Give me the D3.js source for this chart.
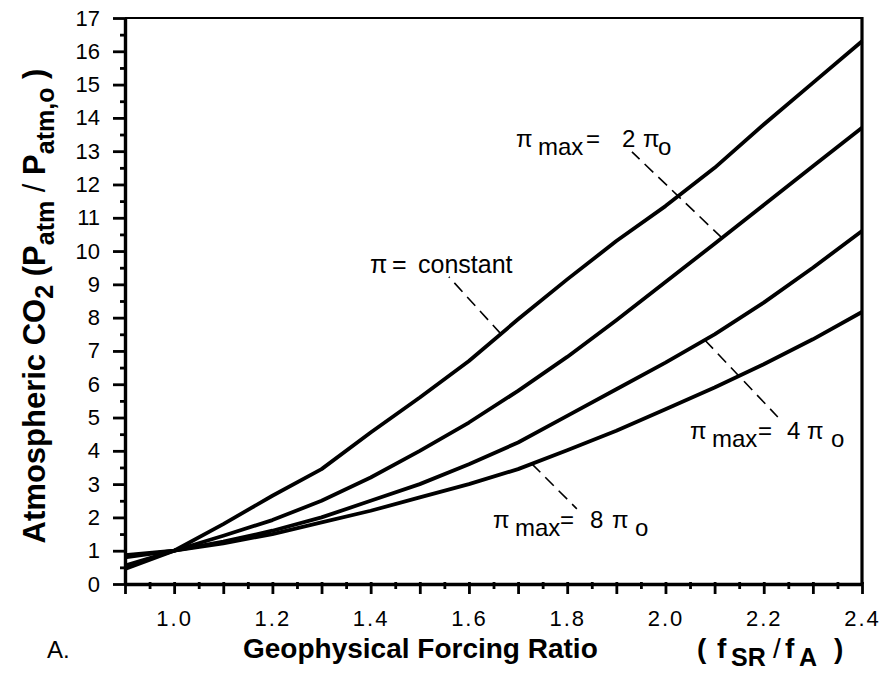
<!DOCTYPE html>
<html>
<head>
<meta charset="utf-8">
<script src="https://cdn.jsdelivr.net/npm/d3@7"></script>
<style>
  body { margin: 0; background: #fff; }
  svg { display: block; }
  text { font-family: "Liberation Sans", Arial, Helvetica, sans-serif; fill: #000; }
</style>
</head>
<body>
<div id="chart"></div>
<script>
// Geophysical forcing ratio vs atmospheric CO2

const forcing = [0.9, 1.0, 1.1, 1.2, 1.3, 1.4, 1.5, 1.6, 1.7, 1.8, 1.9, 2.0, 2.1, 2.2, 2.3, 2.4];
const piConstant = [0.45, 1.0, 1.8, 2.65, 3.45, 4.55, 5.6, 6.7, 7.95, 9.15, 10.3, 11.35, 12.5, 13.8, 15.05, 16.3];
const piMax2 = [0.55, 1.0, 1.45, 1.92, 2.5, 3.2, 4.0, 4.85, 5.8, 6.82, 7.92, 9.07, 10.22, 11.38, 12.55, 13.7];
const piMax4 = [0.8, 1.0, 1.27, 1.6, 2.0, 2.5, 3.0, 3.6, 4.25, 5.05, 5.85, 6.65, 7.5, 8.45, 9.5, 10.6];
const piMax8 = [0.87, 1.0, 1.22, 1.5, 1.85, 2.2, 2.6, 3.0, 3.45, 4.02, 4.6, 5.25, 5.9, 6.6, 7.35, 8.17];

const xTickLabels = [1.0, 1.2, 1.4, 1.6, 1.8, 2.0, 2.2, 2.4];
const yTickLabels = d3.range(0, 18);

const W = 881, H = 681;
const mLeft = 125, mRight = 862, mTop = 18, mBottom = 584;

const svg = d3.select("#chart").append("svg")
  .attr("width", W).attr("height", H);

const x = d3.scaleLinear().domain([0.9, 2.4]).range([mLeft, mRight]);
const y = d3.scaleLinear().domain([0, 17]).range([mBottom, mTop]);

function valueAt(series, xv) {
  let i = d3.bisectLeft(forcing, xv);
  if (i <= 0) return series[0];
  let t = (xv - forcing[i - 1]) / (forcing[i] - forcing[i - 1]);
  return series[i - 1] + t * (series[i] - series[i - 1]);
}

// frame (top + right)
svg.append("line").attr("x1", mLeft).attr("x2", mRight).attr("y1", mTop).attr("y2", mTop)
  .attr("stroke", "#000").attr("stroke-width", 2.2);
svg.append("line").attr("x1", mRight).attr("x2", mRight).attr("y1", mTop - 1).attr("y2", mBottom)
  .attr("stroke", "#000").attr("stroke-width", 3.2);

// x axis
const xTicks = d3.range(18, 49).map(i => i / 20);
const isXLabel = d => xTickLabels.some(v => Math.abs(v - d) < 1e-6);
const gx = svg.append("g").attr("transform", "translate(0," + mBottom + ")")
  .call(d3.axisBottom(x).tickValues(xTicks).tickSizeOuter(0)
    .tickFormat(d => isXLabel(d) ? d3.format(".1f")(d) : ""));
gx.select(".domain").attr("stroke-width", 3.4);
gx.selectAll(".tick line")
  .attr("y1", -2)
  .attr("y2", (d, i) => i % 2 == 0 ? 10 : 5)
  .attr("stroke-width", 2.8);
gx.selectAll(".tick text")
  .attr("y", 26).attr("dy", "0.71em")
  .style("font-size", "22px").style("letter-spacing", "2px");

// y axis
const yTicks = d3.range(0, 35).map(i => i / 2);
const gy = svg.append("g").attr("transform", "translate(" + mLeft + ",0)")
  .call(d3.axisLeft(y).tickValues(yTicks).tickSizeOuter(0)
    .tickFormat(d => Number.isInteger(d) && yTickLabels.includes(d) ? d : ""));
gy.select(".domain").attr("stroke-width", 3.4);
gy.selectAll(".tick line")
  .attr("x1", 2)
  .attr("x2", (d, i) => i % 2 == 0 ? -12 : -5)
  .attr("stroke-width", 2.8);
gy.selectAll(".tick text")
  .attr("x", -25)
  .style("font-size", "22px");
svg.selectAll(".domain").attr("stroke", "#000");
svg.selectAll(".tick line").attr("stroke", "#000");
svg.selectAll(".tick text").attr("fill", "#000").attr("font-family", null);

// curves
const series = [piConstant, piMax2, piMax4, piMax8];
const line = d3.line().x((d, i) => x(forcing[i])).y(d => y(d));
svg.append("g").selectAll("path")
  .data(series)
  .enter()
  .append("path")
  .attr("d", line)
  .attr("fill", "none")
  .attr("stroke", "#000")
  .attr("stroke-width", 3.8)
  .attr("stroke-linejoin", "round");

// leaders: anchored on a curve at a forcing value, other end offset in px
const leaders = [
  { s: piConstant, at: 1.665, dx: -52, dy: -57 },
  { s: piMax2, at: 2.115, dx: -90, dy: -86 },
  { s: piMax4, at: 2.08, dx: 73, dy: 77 },
  { s: piMax8, at: 1.728, dx: 45, dy: 45 }
];
svg.append("g").selectAll("line")
  .data(leaders)
  .enter()
  .append("line")
  .attr("x1", d => x(d.at))
  .attr("y1", d => y(valueAt(d.s, d.at)))
  .attr("x2", d => x(d.at) + d.dx)
  .attr("y2", d => y(valueAt(d.s, d.at)) + d.dy)
  .attr("stroke", "#000")
  .attr("stroke-width", 1.6)
  .attr("stroke-dasharray", "12,7");

// labels
const t1 = svg.append("text").attr("y", 273).style("font-size", "25px");
t1.append("tspan").attr("x", 370).text("\u03c0");
t1.append("tspan").attr("x", 392).text("=");
t1.append("tspan").attr("x", 418).text("constant");

// pieces of "pi_max = n pi_o": start of "=", digit, pi, o
function piMaxLabel(px, py, n, off) {
  let t = svg.append("text").attr("y", py).style("font-size", "24px");
  t.append("tspan").attr("x", px).text("\u03c0");
  t.append("tspan").attr("x", px + 22).attr("dy", 8).text("max");
  t.append("tspan").attr("x", px + off[0]).attr("dy", -8).text("=");
  t.append("tspan").attr("x", px + off[1]).text(n);
  t.append("tspan").attr("x", px + off[2]).text("\u03c0");
  t.append("tspan").attr("x", px + off[3]).attr("dy", 8).text("o");
}
piMaxLabel(516, 147, 2, [70, 106, 127, 142]);
piMaxLabel(690, 439, 4, [68, 97, 117, 141]);
piMaxLabel(493, 528, 8, [67, 97, 119, 142]);

// axis titles
const yl = svg.append("text")
  .attr("transform", "translate(45,306) rotate(-90)")
  .attr("text-anchor", "middle")
  .style("font-size", "31px").style("font-weight", "bold");
yl.append("tspan").text("Atmospheric CO");
yl.append("tspan").attr("dy", 8).style("font-size", "25px").text("2");
yl.append("tspan").attr("dy", -8).text(" (P");
yl.append("tspan").attr("dy", 9).style("font-size", "25px").text("atm");
yl.append("tspan").attr("dy", -9).style("font-weight", "normal").text(" / ");
yl.append("tspan").text("P");
yl.append("tspan").attr("dy", 9).style("font-size", "25px").text("atm,o");
yl.append("tspan").attr("dy", -9).text(" )");

const xl = svg.append("text").attr("x", 243).attr("y", 658)
  .style("font-size", "28px").style("font-weight", "bold");
xl.append("tspan").text("Geophysical Forcing Ratio");
xl.append("tspan").attr("x", 697).text("(");
xl.append("tspan").attr("x", 717).text("f");
xl.append("tspan").attr("x", 731).attr("dy", 8).style("font-size", "25px").text("SR");
xl.append("tspan").attr("x", 773).attr("dy", -8).style("font-weight", "normal").text("/");
xl.append("tspan").attr("x", 785).text("f");
xl.append("tspan").attr("x", 799).attr("dy", 8).style("font-size", "25px").text("A");
xl.append("tspan").attr("x", 834).attr("dy", -8).text(")");

svg.append("text").attr("x", 47).attr("y", 658).style("font-size", "24px").text("A.");
</script>
</body>
</html>
